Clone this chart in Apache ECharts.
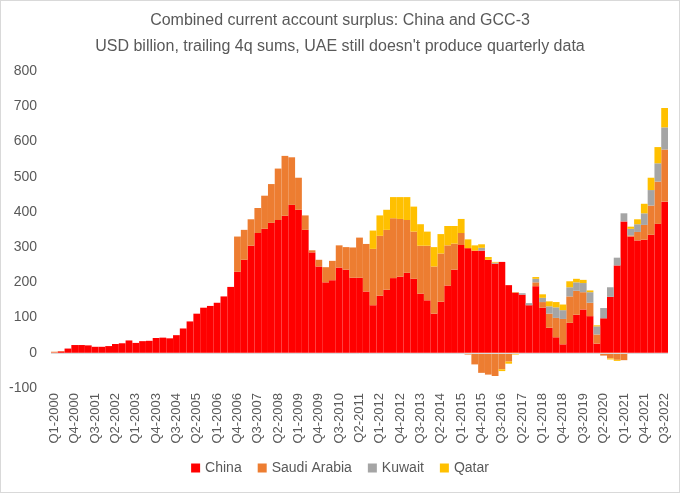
<!DOCTYPE html>
<html><head><meta charset="utf-8">
<script src="https://cdn.jsdelivr.net/npm/echarts@6/dist/echarts.min.js"></script>
<style>html,body{margin:0;padding:0;background:#fff}#c{width:680px;height:493px;box-sizing:border-box;border:1px solid #d9d9d9}</style>
</head><body><div id="c"></div>
<script>
const years = [];
for (let y = 2000; y <= 2022; y++) years.push(y);
const categories = [];
years.forEach(y => { for (let q = 1; q <= 4; q++) if (!(y === 2022 && q === 4)) categories.push('Q' + q + '-' + y); });

const china = [1,4,12,22,22,21,17,17,19,25,27,35,28,33,34,42,43,41,50,69,89,111,128,133,142,160,187,230,264,304,340,352,369,377,389,420,406,349,285,245,200,206,242,236,213,213,174,135,162,179,212,216,227,210,168,149,111,145,191,236,306,297,290,290,264,253,258,192,170,165,135,189,128,71,44,24,85,108,123,104,26,98,159,248,373,330,319,321,335,366,429];
const saudi = [2,1,0,0,0,0,0,0,0,0,0,0,0,0,0,0,0,0,0,0,0,0,0,0,0,0,0,100,85,75,71,94,110,146,170,135,91,41,6,19,43,55,63,64,86,114,135,160,170,170,170,164,150,134,136,155,134,137,114,74,34,-5,-33,-57,-62,-66,-47,-25,2,0,0,11,16,40,55,72,75,68,49,38,26,-8,-16,-20,-21,3,24,42,83,120,148];
const kuwait = [0,0,0,0,0,0,0,0,0,0,0,0,0,0,0,0,0,0,0,0,0,0,0,0,0,0,0,0,0,0,0,0,0,0,0,0,0,0,0,0,0,0,0,0,0,0,0,0,0,0,0,0,0,0,0,0,0,0,0,0,0,0,0,8,0,3,0,0,0,4,6,10,12,21,30,25,26,24,26,30,23,29,27,22,23,19,22,33,44,52,63];
const qatar = [0,0,0,0,0,0,0,0,0,0,0,0,0,0,0,0,0,0,0,0,0,0,0,0,0,0,0,0,0,0,0,0,0,0,0,0,0,0,0,0,0,0,0,0,0,0,0,52,58,57,60,62,65,71,61,40,55,55,55,50,40,25,15,10,8,2,-5,-6,-5,0,0,5,10,14,15,16,17,10,9,5,3,0,-3,-3,0,6,14,27,35,46,55];

const seriesNames = ['China', 'Saudi Arabia', 'Kuwait', 'Qatar'];
const seriesData = [china, saudi, kuwait, qatar];
const colors = ['#FF0000', '#ED7D31', '#A5A5A5', '#FFC000'];
const font = 'Liberation Sans, Arial, sans-serif';

const chart = echarts.init(document.getElementById('c'));
chart.setOption({
  animation: false,
  color: colors,
  title: {
    text: 'Combined current account surplus: China and GCC-3\nUSD billion, trailing 4q sums, UAE still doesn\'t produce quarterly data',
    left: 'center', top: 2,
    textStyle: { fontFamily: font, fontSize: 16, fontWeight: 'normal', color: '#595959', lineHeight: 26 }
  },
  legend: {
    bottom: 12, left: 'center', itemWidth: 9, itemHeight: 9, itemGap: 16, icon: 'rect',
    textStyle: { fontFamily: font, fontSize: 14, color: '#595959' },
    data: seriesNames
  },
  grid: { left: 50, right: 11, top: 70, bottom: 104 },
  xAxis: {
    type: 'category', data: categories,
    axisLine: { show: false, onZero: false }, axisTick: { show: false },
    axisLabel: { interval: 2, rotate: 90, margin: 5, fontFamily: font, fontSize: 13, color: '#595959' }
  },
  yAxis: {
    type: 'value', min: -100, max: 800, interval: 100,
    splitLine: { show: false }, axisLine: { show: false }, axisTick: { show: false },
    axisLabel: { fontFamily: font, fontSize: 14, color: '#595959', margin: 14 }
  },
  series: seriesData.map((d, i) => ({
    name: seriesNames[i], type: 'bar', stack: 'total', data: d,
    barCategoryGap: '0%',
    itemStyle: { color: colors[i] },
    markLine: i === 0 ? {
      silent: true, symbol: 'none', label: { show: false },
      lineStyle: { color: '#d9d9d9', type: 'solid', width: 1 },
      data: [{ yAxis: 0 }]
    } : undefined
  }))
});
</script></body></html>
